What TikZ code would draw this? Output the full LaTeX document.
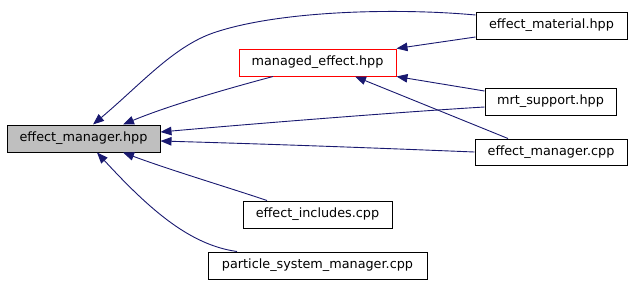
\documentclass[tikz,border=0pt]{standalone}
\usepackage{fontspec}
\setmainfont{DejaVu Sans}
\usetikzlibrary{arrows.meta}

\definecolor{edgeblue}{HTML}{191970}
\definecolor{rootgray}{HTML}{BFBFBF}

\tikzset{
  file/.style={draw=black, fill=white, line width=1pt, inner sep=0pt,
    minimum height=27pt, font=\fontsize{12.8}{14}\selectfont},
  dep/.style={draw=edgeblue, line width=0.9pt,
    -{Triangle[length=11pt,width=8.5pt,fill=edgeblue]}},
}

\begin{document}
\begin{tikzpicture}[x=1pt, y=-1pt]
  \useasboundingbox (0,0) rectangle (632,284);

  % files
  \node[file, fill=rootgray, minimum width=153pt] (hpp)   at (83.5,138.5) {effect\_manager.hpp};
  \node[file, draw=red, minimum width=157pt]      (mgd)   at (317.5,62.5) {managed\_effect.hpp};
  \node[file, minimum width=151pt]                (emat)  at (551.5,25.5) {effect\_material.hpp};
  \node[file, minimum width=131pt]                (mrt)   at (550.5,101.5) {mrt\_support.hpp};
  \node[file, minimum width=152pt, minimum height=26pt] (emcpp) at (551,152) {effect\_manager.cpp};
  \node[file, minimum width=149pt]                (incl)  at (317.5,214.5) {effect\_includes.cpp};
  \node[file, minimum width=219pt]                (part)  at (317.5,265.5) {particle\_system\_manager.cpp};

  % include dependencies
  \draw[dep] ([yshift=10.5pt]emat.west) .. controls (400,8) and (280,10) .. (213,33)
             .. controls (173,47) and (140,85) .. ([xshift=9.5pt]hpp.north);
  \draw[dep] ([yshift=-11.5pt]emat.west) -- (mgd.north east);
  \draw[dep] ([xshift=-44.5pt]mgd.south) .. controls (230,88) and (170,105) .. ([xshift=39.5pt]hpp.north);
  \draw[dep] ([yshift=10.5pt]mrt.west) -- (mgd.south east);
  \draw[dep] ([yshift=-5.5pt]mrt.west) .. controls (400,112) and (250,124) .. ([yshift=6.5pt]hpp.east);
  \draw[dep] ([xshift=-43pt]emcpp.north) -- ([xshift=37.5pt]mgd.south);
  \draw[dep] (emcpp.west) .. controls (400,149) and (300,145) .. ([yshift=-2.5pt]hpp.east);
  \draw[dep] ([xshift=-50.5pt]incl.north) .. controls (230,188) and (170,170) .. ([xshift=39.5pt]hpp.south);
  \draw[dep] ([xshift=-80.5pt]part.north) .. controls (190,245) and (150,210) .. ([xshift=13.5pt]hpp.south);
\end{tikzpicture}
\end{document}
